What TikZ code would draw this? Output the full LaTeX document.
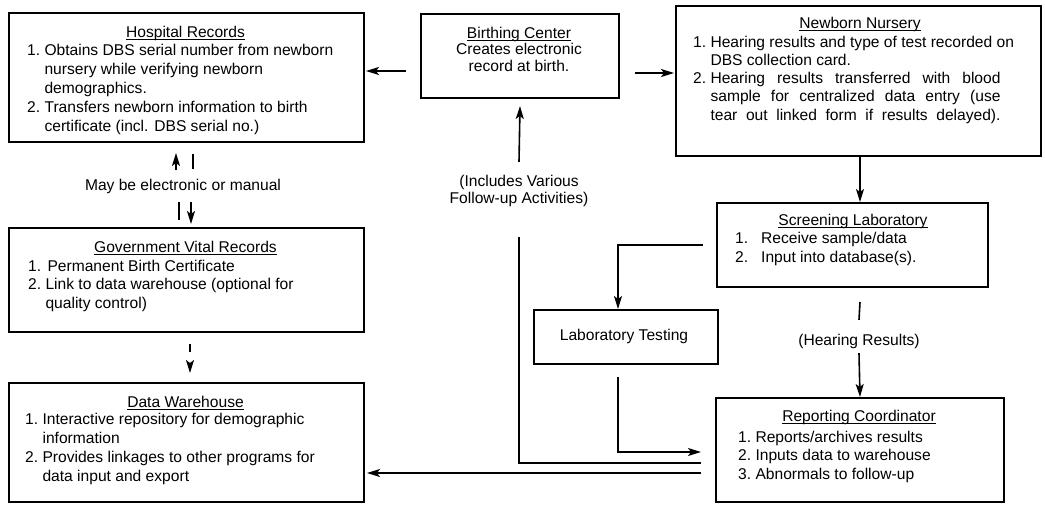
\documentclass[tikz,border=0pt]{standalone}
\usepackage{fontspec}
\setmainfont{Liberation Sans}
\usetikzlibrary{arrows.meta,calc}
\newcommand\fsz{\fontsize{15.6pt}{18.7pt}\selectfont}
\newcommand\lsp[1]{\fontsize{15.6pt}{#1}\selectfont}
\newcommand\ulx[1]{\setbox0\hbox{#1}\rlap{\rule[-3pt]{\wd0}{0.9pt}}\box0}
\begin{document}
\begin{tikzpicture}[x=1pt,y=-1pt,
  box/.style={draw,line width=2pt,inner sep=0pt,anchor=north west},
  lbl/.style={inner sep=0pt,font=\fsz},
  arr/.style={line width=1.6pt,-{Stealth[length=13pt,width=8pt,inset=3pt]}},
  ln/.style={line width=1.6pt}]
\fill[white] (0,0) rectangle (1045,504);
\useasboundingbox (0,0) rectangle (1045,504);

% boxes
\node[box,minimum width=355pt,minimum height=129pt] (hosp)   at (8,12)    {};
\node[box,minimum width=198pt,minimum height=84pt]  (birth)  at (420,13)  {};
\node[box,minimum width=365pt,minimum height=150pt] (nurse)  at (675,5)   {};
\node[box,minimum width=355pt,minimum height=104pt] (gov)    at (8,227)   {};
\node[box,minimum width=355pt,minimum height=119pt] (dw)     at (8,382)   {};
\node[box,minimum width=271pt,minimum height=84pt]  (screen) at (716,202) {};
\node[box,minimum width=184pt,minimum height=54pt]  (lab)    at (533,309) {};
\node[box,minimum width=288pt,minimum height=104pt] (rep)    at (715,397) {};

% Hospital Records
\node[lbl,anchor=base] (hospT) at (185.5,37) {\ulx{Hospital Records}};
\node[lbl,anchor=base west] (hospL) at (27,55) {\lsp{19pt}\begin{tabular}[t]{@{}l@{\ }l@{}}
1.&Obtains DBS serial number from newborn\\
&nursery while verifying newborn\\
&demographics.\\
2.&Transfers newborn information to birth\\
&certificate (incl. DBS serial no.)\end{tabular}};

% Birthing Center
\node[lbl,anchor=base] (birthT) at (519,38) {\lsp{16.5pt}\begin{tabular}[t]{@{}c@{}}
\ulx{Birthing Center}\\Creates electronic\\record at birth.\end{tabular}};

% Newborn Nursery
\node[lbl,anchor=base] (nurseT) at (860,28) {\ulx{Newborn Nursery}};
\node[lbl,anchor=base west] (nurseL) at (693,47) {\lsp{18.3pt}\begin{tabular}[t]{@{}l@{\ }l@{}}
1.&Hearing results and type of test recorded on\\
&DBS collection card.\\
2.&\makebox[290pt][s]{Hearing results transferred with blood}\\
&\makebox[290pt][s]{sample for centralized data entry (use}\\
&\makebox[290pt][s]{tear out linked form if results delayed).}\end{tabular}};

% Government Vital Records
\node[lbl,anchor=base] (govT) at (185.5,252) {\ulx{Government Vital Records}};
\node[lbl,anchor=base west] (govL) at (28,271) {\lsp{18.5pt}\begin{tabular}[t]{@{}l@{\ }l@{}}
1.&\hspace{2pt}Permanent Birth Certificate\\
2.&Link to data warehouse (optional for\\
&quality control)\end{tabular}};

% Data Warehouse
\node[lbl,anchor=base] (dwT) at (185.5,407) {\ulx{Data Warehouse}};
\node[lbl,anchor=base west] (dwL) at (25,424) {\lsp{19pt}\begin{tabular}[t]{@{}l@{\ }l@{}}
1.&Interactive repository for demographic\\
&information\\
2.&Provides linkages to other programs for\\
&data input and export\end{tabular}};

% Screening Laboratory
\node[lbl,anchor=base] (screenT) at (853,225) {\ulx{Screening Laboratory}};
\node[lbl,anchor=base west] (screenL) at (735,243) {\lsp{19pt}\begin{tabular}[t]{@{}l@{\hspace{13pt}}l@{}}
1.&Receive sample/data\\
2.&Input into database(s).\end{tabular}};

% Laboratory Testing
\node[lbl,anchor=base] (labT) at (624,340) {Laboratory Testing};

% Reporting Coordinator
\node[lbl,anchor=base] (repT) at (859,421) {\ulx{Reporting Coordinator}};
\node[lbl,anchor=base west] (repL) at (738,442) {\lsp{18.5pt}\begin{tabular}[t]{@{}l@{\ }l@{}}
1.&Reports/archives results\\
2.&Inputs data to warehouse\\
3.&Abnormals to follow-up\end{tabular}};

% free labels
\node[lbl,anchor=base] (mbe) at (183,190) {May be electronic or manual};
\node[lbl,anchor=base] (inc) at (519,186) {\lsp{17pt}\begin{tabular}[t]{@{}c@{}}
(Includes Various\\Follow-up Activities)\end{tabular}};
\node[lbl,anchor=base] (hr) at (859,345) {(Hearing Results)};

% connectors
\draw[arr] ([xshift=-14pt,yshift=-15pt]birth.west) -- ([xshift=1pt,yshift=6.5pt]hosp.east);
\draw[arr] ([xshift=15pt,yshift=-17pt]birth.east) -- ([xshift=-1pt,yshift=8pt]nurse.west);
\draw[arr] ([yshift=12pt]inc.north) -- ([yshift=-7pt]birth.south);
\draw[arr] ([xshift=1.5pt]nurse.south) -- ([xshift=7.5pt]screen.north);
\draw[arr] ([xshift=-13pt]screen.west) -| ([xshift=-8pt]lab.north);
\draw[ln] ([xshift=7.5pt,yshift=-14pt]screen.south) -- ([yshift=13.6pt]hr.north);
\draw[arr] ([yshift=-4.7pt]hr.south) -- (rep.north);
\draw[arr] ([xshift=-8pt,yshift=-12pt]lab.south) |- ([xshift=-14pt,yshift=-2pt]rep.west);
\draw[line width=2pt] ([xshift=-14pt,yshift=-13pt]rep.west) -| ([yshift=-29pt]inc.south);
\draw[arr] ([xshift=-14pt,yshift=-23pt]rep.west) -- ([xshift=2pt,yshift=-30.5pt]dw.east);
% Hospital <-> Government (may be electronic or manual)
\draw[arr] ([xshift=-10.5pt,yshift=-27pt]hosp.south) -- ([xshift=-10.5pt,yshift=-10pt]hosp.south);
\draw[ln] ([xshift=6.5pt,yshift=-11pt]hosp.south) -- ([xshift=6.5pt,yshift=-26pt]hosp.south);
\draw[ln] ([xshift=-7.5pt,yshift=25pt]gov.north) -- ([xshift=-7.5pt,yshift=7pt]gov.north);
\draw[arr] ([xshift=4.5pt,yshift=25pt]gov.north) -- ([xshift=4.5pt,yshift=3pt]gov.north);
% Government -> Data Warehouse
\draw[arr,dash pattern=on 8pt off 20pt] ([xshift=3.5pt,yshift=-11pt]gov.south) -- ([xshift=3.5pt,yshift=9pt]dw.north);
\end{tikzpicture}
\end{document}
